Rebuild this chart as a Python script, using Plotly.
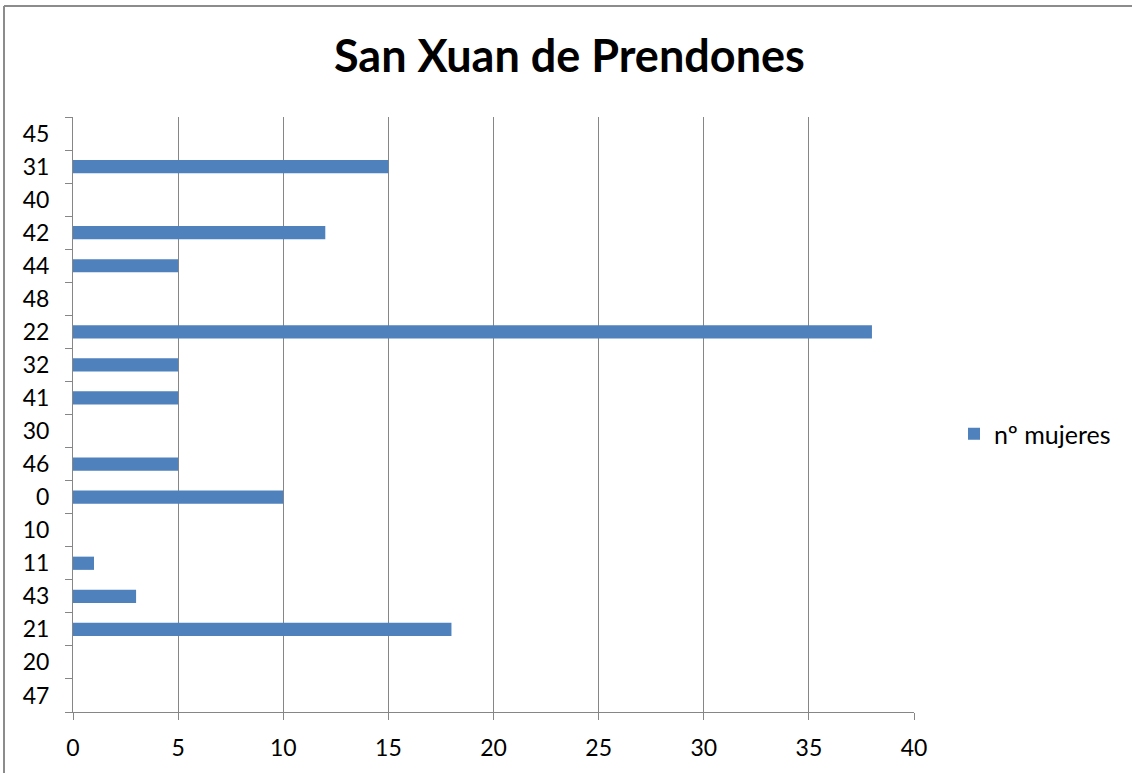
import plotly.graph_objects as go

# Datos (de abajo hacia arriba)
categorias = ["47", "20", "21", "43", "11", "10", "0", "46", "30",
              "41", "32", "22", "48", "44", "42", "40", "31", "45"]
n_mujeres = [0, 0, 18, 3, 1, 0, 10, 5, 0, 5, 5, 38, 0, 5, 12, 0, 15, 0]
x_ticks = [0, 5, 10, 15, 20, 25, 30, 35, 40]

W, H = 1132, 773
L, R, T, B = 73, 218, 117, 61
pw, ph = W - L - R, H - T - B

fig = go.Figure()
fig.add_trace(
    go.Bar(
        x=n_mujeres,
        y=categorias,
        orientation="h",
        name="nº mujeres",
        marker=dict(color="#4F81BD", line=dict(width=0)),
        showlegend=True,
    )
)

# Borde exterior (solo arriba e izquierda visibles)
bx = (4 - L) / pw
by = 1 + (T - 6) / ph
fig.add_shape(type="line", xref="paper", yref="paper", x0=bx, x1=1 + (R + 10) / pw,
              y0=by, y1=by, line=dict(color="#8C8C8C", width=2))
fig.add_shape(type="line", xref="paper", yref="paper", x0=bx, x1=bx,
              y0=by, y1=-(B + 10) / ph, line=dict(color="#8C8C8C", width=2))

fig.update_layout(
    width=W,
    height=H,
    margin=dict(l=L, r=R, t=T, b=B),
    paper_bgcolor="white",
    plot_bgcolor="white",
    bargap=0.6,
    title=dict(
        text="<b>San Xuan de Prendones</b>",
        x=0.503,
        xref="container",
        xanchor="center",
        y=1 - 56 / H,
        yref="container",
        yanchor="middle",
        font=dict(family="Lato", size=45, color="black"),
    ),
    font=dict(family="Lato", size=23, color="black"),
    legend=dict(
        x=(954 - L) / pw,
        y=(712 - 434) / ph,
        xanchor="left",
        yanchor="middle",
        font=dict(size=25),
        itemwidth=30,
    ),
    xaxis=dict(
        range=[0, 40],
        tickvals=x_ticks,
        showgrid=True,
        gridcolor="#868686",
        gridwidth=1,
        zeroline=False,
        showline=True,
        linecolor="#868686",
        ticks="outside",
        ticklen=7,
        tickcolor="#868686",
        ticklabelstandoff=8,
        fixedrange=True,
    ),
    yaxis=dict(
        type="category",
        categoryorder="array",
        categoryarray=categorias,
        showgrid=False,
        zeroline=False,
        showline=True,
        linecolor="#868686",
        ticks="outside",
        tickson="boundaries",
        ticklen=7,
        tickcolor="#868686",
        ticklabelstandoff=18,
        fixedrange=True,
    ),
)

fig.write_html(
    "out.html",
    config={"displayModeBar": False},
    post_script="document.body.style.margin='0';",
)
